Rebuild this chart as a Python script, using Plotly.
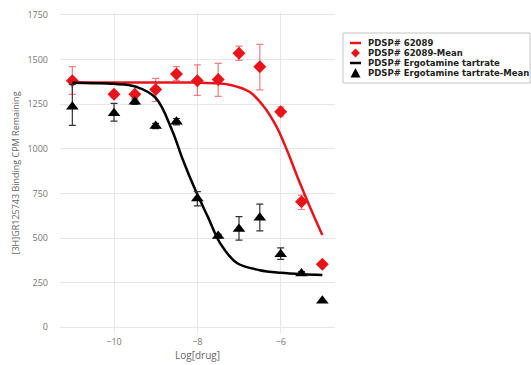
import plotly.graph_objects as go

# Concentrations (log molar)
log_dose = [-11, -10, -9.5, -9, -8.5, -8, -7.5, -7, -6.5, -6, -5.5, -5]

# PDSP# 62089 means and error bars
mean_62089 = [1382, 1306, 1306, 1333, 1419, 1382, 1389, 1535, 1460, 1208, 704, 353]
err_up_62089 = [78, 15, 45, 62, 42, 88, 90, 40, 125, 27, 36, 0]
err_dn_62089 = [77, 15, 45, 68, 35, 82, 95, 40, 130, 23, 44, 0]

# Ergotamine tartrate means and error bars
mean_ergo = [1236, 1199, 1264, 1128, 1152, 722, 511, 551, 614, 409, 302, 149]
err_up_ergo = [125, 56, 15, 15, 18, 38, 10, 69, 76, 36, 10, 0]
err_dn_ergo = [105, 44, 15, 15, 18, 42, 10, 63, 74, 29, 10, 0]

# Fitted curves
fit_x_62089 = [-11, -10, -9, -8, -7.5, -7.2, -6.75, -6.4, -6.1, -5.85, -5.6, -5.3, -5.0]
fit_y_62089 = [1372, 1372, 1372, 1371, 1367, 1358, 1320, 1236, 1124, 993, 844, 676, 517]

fit_x_ergo = [-11, -10.5, -10, -9.5, -9.0, -8.6, -8.35, -8.05, -7.75, -7.45, -7.05, -6.5, -6, -5.5, -5]
fit_y_ergo = [1370, 1368, 1364, 1350, 1285, 1100, 940, 770, 620, 470, 360, 320, 305, 297, 293]

legend_labels = ["PDSP# 62089", "PDSP# 62089-Mean",
                 "PDSP# Ergotamine tartrate", "PDSP# Ergotamine tartrate-Mean"]

RED = "#e8141c"
BLACK = "#000000"

W, H = 531, 365
ML, MR, MT, MB = 60, 196, 13, 32
PW, PH = W - ML - MR, H - MT - MB


def px(x):
    return (x - ML) / PW


def py(y):
    return 1 - (y - MT) / PH


fig = go.Figure()

fig.add_trace(go.Scatter(
    x=fit_x_62089, y=fit_y_62089, mode="lines", name=legend_labels[0],
    line=dict(color=RED, width=2.5, shape="spline", smoothing=1.0),
))
fig.add_trace(go.Scatter(
    x=log_dose, y=mean_62089, mode="markers", name=legend_labels[1],
    marker=dict(symbol="diamond", size=10, color=RED),
    error_y=dict(type="data", array=err_up_62089, arrayminus=err_dn_62089,
                 color="rgba(232,20,28,0.55)", thickness=1.2, width=3.5),
))
fig.add_trace(go.Scatter(
    x=fit_x_ergo, y=fit_y_ergo, mode="lines", name=legend_labels[2],
    line=dict(color=BLACK, width=2.5, shape="spline", smoothing=1.0),
))
fig.add_trace(go.Scatter(
    x=log_dose, y=mean_ergo, mode="markers", name=legend_labels[3],
    marker=dict(symbol="triangle-up", size=11, color=BLACK),
    error_y=dict(type="data", array=err_up_ergo, arrayminus=err_dn_ergo,
                 color="#333333", thickness=1.2, width=3.5),
))

# Compact legend box drawn with shapes and annotations
rows = [43, 53, 63, 73]
shapes = [dict(type="rect", xref="paper", yref="paper",
               x0=px(343), x1=px(530), y0=py(33), y1=py(83),
               line=dict(color="#c4c4c4", width=1), fillcolor="white", layer="above")]
annotations = []
for label, ry in zip(legend_labels, rows):
    annotations.append(dict(xref="paper", yref="paper", x=px(366), y=py(ry),
                            text=label, showarrow=False, xanchor="left", yanchor="middle",
                            height=10, valign="middle",
                            font=dict(family="DejaVu Sans, Verdana, sans-serif", size=8.5,
                                      color="#222222", weight="bold")))
# line symbols
for ry, col in ((rows[0], RED), (rows[2], BLACK)):
    shapes.append(dict(type="line", xref="paper", yref="paper",
                       x0=px(350), x1=px(361), y0=py(ry), y1=py(ry),
                       line=dict(color=col, width=2.5), layer="above"))
# diamond symbol
cx, cy = 355.5, rows[1]
shapes.append(dict(type="path", xref="paper", yref="paper", layer="above",
                   path=f"M {px(cx-4.5)} {py(cy)} L {px(cx)} {py(cy-4.5)} L {px(cx+4.5)} {py(cy)} L {px(cx)} {py(cy+4.5)} Z",
                   fillcolor=RED, line=dict(width=0)))
# triangle symbol
cx, cy = 355.5, rows[3]
shapes.append(dict(type="path", xref="paper", yref="paper", layer="above",
                   path=f"M {px(cx-5)} {py(cy+4.5)} L {px(cx)} {py(cy-5)} L {px(cx+5)} {py(cy+4.5)} Z",
                   fillcolor=BLACK, line=dict(width=0)))

fig.update_layout(
    width=W, height=H,
    margin=dict(l=ML, r=MR, t=MT, b=MB),
    paper_bgcolor="white", plot_bgcolor="white",
    font=dict(family="Open Sans, Arial, sans-serif", size=9, color="#666666"),
    showlegend=False,
    shapes=shapes,
    annotations=annotations,
)

fig.update_xaxes(
    range=[-11.296, -4.696], tickvals=[-10, -8, -6], ticktext=["\u221210", "\u22128", "\u22126"],
    showgrid=True, gridcolor="#e6e6e6", gridwidth=1, zeroline=False, showline=False,
    ticks="", tickfont=dict(size=9, color="#777777"), ticklabelstandoff=2,
    automargin=False,
    title=dict(text="Log[drug]", font=dict(size=10, color="#666666"), standoff=4),
)
fig.update_yaxes(
    range=[-32, 1761], tickvals=[0, 250, 500, 750, 1000, 1250, 1500, 1750],
    showgrid=True, gridcolor="#e6e6e6", gridwidth=1, zeroline=False, showline=False,
    ticks="", tickfont=dict(size=9, color="#777777"), ticklabelstandoff=11,
    automargin=False,
    title=dict(text="[3H]GR125743 Binding CPM Remaining", font=dict(size=9, color="#666666"), standoff=6),
)

fig.write_html("out.html")
